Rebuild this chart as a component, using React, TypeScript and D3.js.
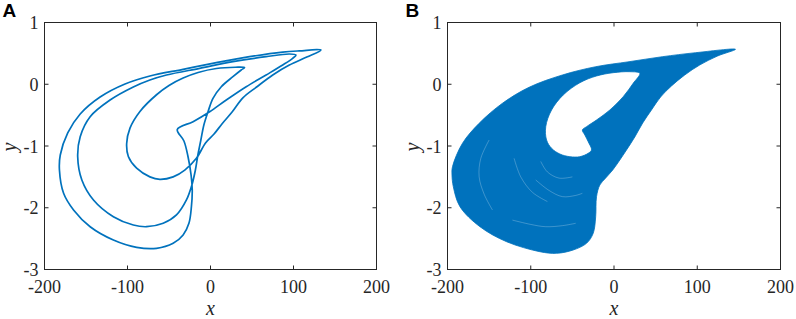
import React from "react";
import * as d3 from "d3";

type P = [number, number];

// Panel A: period-3 limit cycle, split into three arcs
const innerLoopA: P[] = [
  [41, 0.27], [30, 0.275], [7, 0.255], [-15, 0.19], [-33, 0.1], [-50, -0.02], [-65, -0.17],
  [-85, -0.44], [-97, -0.71], [-101, -0.96], [-99, -1.17], [-89, -1.36], [-73, -1.5], [-61, -1.54],
  [-45, -1.5], [-31, -1.39], [-17, -1.2], [-6, -0.95], [4, -0.81], [14, -0.64], [26, -0.45],
  [39, -0.22], [56, -0.04], [75, 0.15], [95, 0.31], [116, 0.44],
];
const outerLoopA: P[] = [
  [133, 0.555], [107, 0.54], [87, 0.52], [47, 0.446], [7, 0.349], [-33, 0.242], [-73, 0.134],
  [-103, 0.004], [-133, -0.207], [-157, -0.482], [-172, -0.789], [-181, -1.146], [-182, -1.389],
  [-177, -1.766], [-165, -2.036], [-145, -2.307], [-117, -2.522], [-89, -2.641], [-65, -2.657],
  [-45, -2.576], [-33, -2.441], [-26, -2.252], [-23, -1.983], [-22, -1.712], [-23.4, -1.47],
  [-27, -1.178], [-32, -0.919],
];
const middleLoopA: P[] = [
  [-40, -0.733], [-21, -0.606], [-1, -0.445], [19, -0.255], [43, -0.04], [67, 0.15], [87, 0.312],
  [99, 0.42], [103, 0.474], [95, 0.49], [67, 0.446], [27, 0.365], [-13, 0.258], [-53, 0.15],
  [-73, 0.069], [-93, -0.044], [-121, -0.255], [-145, -0.525], [-157, -0.849], [-160, -1.173],
  [-155, -1.55], [-141, -1.874], [-117, -2.145], [-93, -2.28], [-77, -2.307], [-57, -2.252],
  [-41, -2.117], [-29, -1.874], [-22.4, -1.631], [-18.2, -1.388], [-15.2, -1.146], [-11.6, -0.903],
  [-8, -0.66], [-3, -0.445], [3, -0.228], [13, -0.04], [27, 0.122], [37, 0.231],
];

// Panel B: chaotic attractor, outer outline and inner hole
const outerBoundaryB: P[] = [
  [146, 0.566], [98, 0.511], [58, 0.446], [18, 0.365], [-22, 0.284], [-62, 0.15], [-102, -0.049],
  [-134, -0.308], [-162, -0.632], [-182, -0.956], [-194, -1.335], [-194.6, -1.47], [-193, -1.659],
  [-185, -1.983], [-161, -2.307], [-129, -2.55], [-89, -2.712], [-69, -2.738], [-49, -2.684],
  [-33, -2.576], [-25, -2.414], [-22, -2.145], [-21, -1.821], [-17, -1.631], [-10, -1.518],
  [-1.5, -1.388], [7, -1.227], [15, -1.065], [25, -0.854], [34.5, -0.627], [45, -0.417],
  [56, -0.206], [69, -0.028], [85, 0.15], [103, 0.312], [124.5, 0.458],
];
const holeBoundaryB: P[] = [
  [31, 0.177], [19, 0.203], [-1, 0.187], [-21, 0.134], [-41, 0.025], [-61, -0.174], [-75, -0.417],
  [-82, -0.687], [-81, -0.903], [-75, -1.037], [-65, -1.13], [-53, -1.173], [-41, -1.173],
  [-31, -1.118], [-27, -1.065], [-31, -0.93], [-35, -0.822], [-38, -0.741], [-33, -0.687],
  [-21, -0.579], [-5, -0.417], [11, -0.202], [23, 0.015],
];
const streaksB: P[][] = [
  [[-122, -2.2], [-100, -2.27], [-82, -2.307], [-62, -2.29], [-46, -2.252]],
  [[-94, -1.55], [-78, -1.72], [-62, -1.82], [-46, -1.8], [-38, -1.766]],
  [[-150, -0.903], [-160, -1.2], [-162, -1.497], [-156, -1.78], [-146, -2.036]],
  [[-120, -1.2], [-112, -1.5], [-98, -1.75], [-80, -1.9]],
  [[-88, -1.25], [-80, -1.42], [-66, -1.52], [-50, -1.5]],
];

const xTicks = [-200, -100, 0, 100, 200];
const yTicks = [-3, -2, -1, 0, 1];
const xDomain: P = [-200, 200];
const yDomain: P = [-3, 1];

const BLUE = "#0072BD";
const AX = "#262626";
const SERIF = "'Liberation Serif', 'Times New Roman', serif";
const SANS = "'Liberation Sans', Arial, sans-serif";

function Panel({ left, right, letter, children }: { left: number; right: number; letter: string; children: (x: any, y: any) => React.ReactNode }) {
  const top = 22.5, bottom = 269.5;
  const x = d3.scaleLinear().domain(xDomain).range([left, right]);
  const y = d3.scaleLinear().domain(yDomain).range([bottom, top]);
  const tl = 4;
  return (
    <g>
      <text x={left - 42} y={17} fontFamily={SANS} fontWeight="bold" fontSize={19} fill="#000">{letter}</text>
      <g>{children(x, y)}</g>
      <rect x={left} y={top} width={right - left} height={bottom - top} fill="none" stroke={AX} strokeWidth={1} />
      {xTicks.map((t) => (
        <g key={"x" + t}>
          <line x1={x(t)} x2={x(t)} y1={bottom} y2={bottom - tl} stroke={AX} />
          <line x1={x(t)} x2={x(t)} y1={top} y2={top + tl} stroke={AX} />
          <text x={x(t)} y={293} textAnchor="middle" fontFamily={SERIF} fontSize={18} fill={AX}>{t}</text>
        </g>
      ))}
      {yTicks.map((t) => (
        <g key={"y" + t}>
          <line x1={left} x2={left + tl} y1={y(t)} y2={y(t)} stroke={AX} />
          <line x1={right} x2={right - tl} y1={y(t)} y2={y(t)} stroke={AX} />
          <text x={left - 6} y={y(t) + 0.5} textAnchor="end" dominantBaseline="central" fontFamily={SERIF} fontSize={18} fill={AX}>{t}</text>
        </g>
      ))}
      <text x={(left + right) / 2} y={315} textAnchor="middle" fontFamily={SERIF} fontStyle="italic" fontSize={20} fill={AX}>x</text>
      <text transform={`translate(${left - 28.5},${147}) rotate(-90)`} textAnchor="middle" fontFamily={SERIF} fontStyle="italic" fontSize={20} fill={AX}>y</text>
    </g>
  );
}

export default function App() {
  const cycle = [...innerLoopA, ...outerLoopA, ...middleLoopA];
  return (
    <svg width={796} height={319} style={{ position: "absolute", left: 0, top: 0, background: "#fff" }}>
      <rect width={796} height={319} fill="#fff" />
      <Panel left={44.5} right={376.5} letter="A">
        {(x, y) => {
          const line = d3.line<P>().x((d) => x(d[0])).y((d) => y(d[1])).curve(d3.curveCatmullRomClosed.alpha(0.5));
          return <path d={line(cycle) || ""} fill="none" stroke={BLUE} strokeWidth={1.7} strokeLinejoin="round" />;
        }}
      </Panel>
      <Panel left={447.5} right={780.5} letter="B">
        {(x, y) => {
          const closed = d3.line<P>().x((d) => x(d[0])).y((d) => y(d[1])).curve(d3.curveCatmullRomClosed.alpha(0.5));
          const open = d3.line<P>().x((d) => x(d[0])).y((d) => y(d[1])).curve(d3.curveCatmullRom.alpha(0.5));
          return (
            <g>
              <path d={(closed(outerBoundaryB) || "") + (closed(holeBoundaryB) || "")} fill={BLUE} fillRule="evenodd" stroke={BLUE} strokeWidth={0.8} />
              {streaksB.map((s, i) => (
                <path key={i} d={open(s) || ""} fill="none" stroke="#ffffff" strokeOpacity={0.3} strokeWidth={0.8} />
              ))}
            </g>
          );
        }}
      </Panel>
    </svg>
  );
}
